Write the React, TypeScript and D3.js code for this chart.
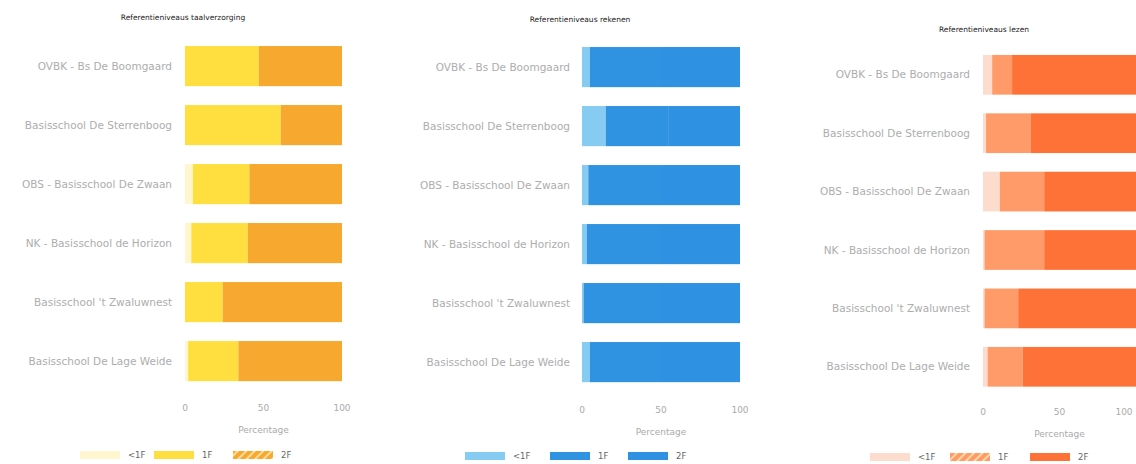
import React from "react";
import * as d3 from "d3";

const schools = [
  "OVBK - Bs De Boomgaard",
  "Basisschool De Sterrenboog",
  "OBS - Basisschool De Zwaan",
  "NK - Basisschool de Horizon",
  "Basisschool 't Zwaluwnest",
  "Basisschool De Lage Weide",
];
const levels = ["<1F", "1F", "2F"];
const ticks = [0, 50, 100];

const taalBelow = [0, 0, 5, 4, 0, 2];
const taal1F = [47, 61, 36, 36, 24, 32];
const taal2F = [53, 39, 59, 60, 76, 66];

const rekenBelow = [5, 15, 4, 3, 1, 5];
const reken1F = [45, 40, 46, 47, 49, 45];
const reken2F = [50, 45, 50, 50, 50, 50];

const lezenBelow = [6, 2, 11, 1, 1, 3];
const lezen1F = [13, 29, 29, 39, 22, 23];
const lezen2F = [81, 69, 60, 60, 77, 74];

const titles = [
  "Referentieniveaus taalverzorging",
  "Referentieniveaus rekenen",
  "Referentieniveaus lezen",
];

type PanelCfg = {
  title: string;
  series: number[][];
  colors: string[];
  hatch: number;
  x0: number;
  x1: number;
  y0: number;
  y1: number;
  titleX: number;
  titleY: number;
  labelX: number;
  tickY: number;
  axisY: number;
  legendY: number;
  legendX: number[];
  id: string;
};

const panels: PanelCfg[] = [
  {
    id: "p1",
    title: titles[0],
    series: [taalBelow, taal1F, taal2F],
    colors: ["#fff6cf", "#ffdf3f", "#f7a82e"],
    hatch: 2,
    x0: 185,
    x1: 342,
    y0: 36.6,
    y1: 390.6,
    titleX: 183,
    titleY: 20,
    labelX: 172,
    tickY: 411,
    axisY: 433,
    legendY: 455,
    legendX: [80, 154, 233],
  },
  {
    id: "p2",
    title: titles[1],
    series: [rekenBelow, reken1F, reken2F],
    colors: ["#86cbf1", "#2f93e2", "#2e91e1"],
    hatch: -1,
    x0: 582,
    x1: 740,
    y0: 37.6,
    y1: 391.6,
    titleX: 580,
    titleY: 22,
    labelX: 570,
    tickY: 413,
    axisY: 435,
    legendY: 456,
    legendX: [465, 550, 628],
  },
  {
    id: "p3",
    title: titles[2],
    series: [lezenBelow, lezen1F, lezen2F],
    colors: ["#fcdccd", "#ff9b68", "#ff7237"],
    hatch: 1,
    x0: 983,
    x1: 1136,
    y0: 45.6,
    y1: 396,
    titleX: 984,
    titleY: 32,
    labelX: 970,
    tickY: 415,
    axisY: 437,
    legendY: 457,
    legendX: [870, 950, 1030],
  },
];

function Panel({ cfg }: { cfg: PanelCfg }) {
  const x = d3.scaleLinear().domain([0, 100]).range([cfg.x0, cfg.x1]);
  const y = d3
    .scaleBand<string>()
    .domain(schools)
    .range([cfg.y0, cfg.y1])
    .paddingInner(0.32)
    .paddingOuter(0.16);
  const rows = schools.map((s, i) => ({
    s,
    vals: cfg.series.map((arr) => arr[i]),
  }));
  const stack = d3
    .stack<any>()
    .keys(levels)
    .value((d: any, key: string) => d.vals[levels.indexOf(key)]);
  const stacked = stack(rows);
  return (
    <g>
      <defs>
        <pattern
          id={cfg.id + "hatch"}
          width="6"
          height="6"
          patternUnits="userSpaceOnUse"
          patternTransform="rotate(45)"
        >
          <rect width="6" height="6" fill={cfg.colors[Math.max(cfg.hatch, 0)]} />
          <rect width="2" height="6" fill="#ffe9b0" opacity="0.8" />
        </pattern>
      </defs>
      <text
        x={cfg.titleX}
        y={cfg.titleY}
        textAnchor="middle"
        fontSize={7.5}
        fontFamily="DejaVu Sans, sans-serif"
        fill="#222"
      >
        {cfg.title}
      </text>
      {stacked.map((layer, li) => (
        <g key={li} fill={cfg.colors[li]}>
          {layer.map((d: any, i: number) => (
            <rect
              key={i}
              x={x(d[0])}
              y={y(schools[i])}
              width={Math.max(0, x(d[1]) - x(d[0]))}
              height={y.bandwidth()}
            />
          ))}
        </g>
      ))}
      {schools.map((s) => (
        <text
          key={s}
          x={cfg.labelX}
          y={(y(s) as number) + y.bandwidth() / 2}
          dy="0.35em"
          textAnchor="end"
          fontSize={10.5}
          fontFamily="DejaVu Sans, sans-serif"
          fill="#adadad"
        >
          {s}
        </text>
      ))}
      {ticks.map((t) => (
        <text
          key={t}
          x={Math.min(x(t), 1124)}
          y={cfg.tickY}
          textAnchor="middle"
          fontSize={9}
          fontFamily="DejaVu Sans, sans-serif"
          fill="#aaa"
        >
          {t}
        </text>
      ))}
      <text
        x={(cfg.x0 + cfg.x1) / 2}
        y={cfg.axisY}
        textAnchor="middle"
        fontSize={9}
        fontFamily="DejaVu Sans, sans-serif"
        fill="#aaa"
      >
        Percentage
      </text>
      {levels.map((l, i) => (
        <g key={l}>
          <rect
            x={cfg.legendX[i]}
            y={cfg.legendY - 4}
            width={40}
            height={8}
            fill={i === cfg.hatch ? `url(#${cfg.id}hatch)` : cfg.colors[i]}
          />
          <text
            x={cfg.legendX[i] + 48}
            y={cfg.legendY}
            dy="0.35em"
            fontSize={8.5}
            fontFamily="DejaVu Sans, sans-serif"
            fill="#666"
          >
            {l}
          </text>
        </g>
      ))}
    </g>
  );
}

export default function App() {
  return (
    <svg
      width={1136}
      height={464}
      style={{ position: "absolute", left: 0, top: 0, background: "#fff" }}
    >
      <rect width={1136} height={464} fill="#fff" />
      {panels.map((p) => (
        <Panel key={p.id} cfg={p} />
      ))}
    </svg>
  );
}
